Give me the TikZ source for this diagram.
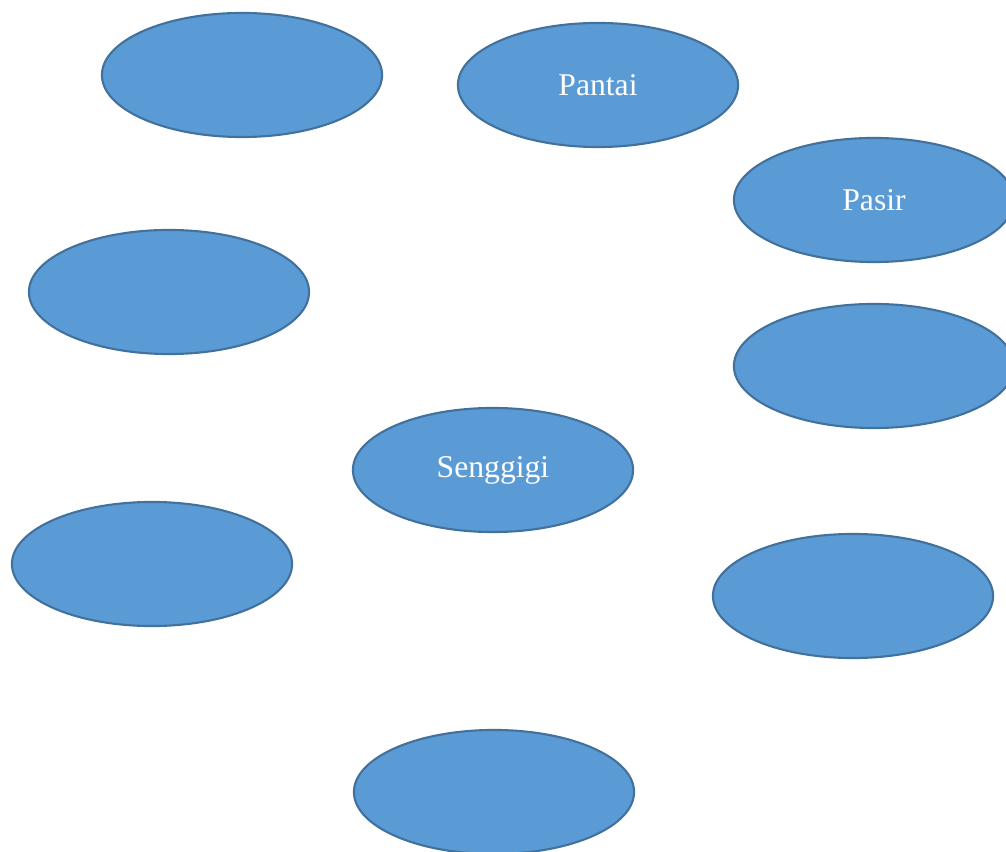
\documentclass[tikz,border=0pt]{standalone}
\usepackage{fontspec}
\setmainfont{Liberation Serif}
\usepackage{xcolor}
\usepackage{tikz}
\usetikzlibrary{shapes.geometric}
\definecolor{bubblefill}{HTML}{5B9BD5}
\definecolor{bubbleline}{HTML}{41719C}

\begin{document}
\begin{tikzpicture}[x=0.01cm, y=-0.01cm, bubble/.style={ellipse, draw=bubbleline, fill=bubblefill, line width=0.6pt, minimum width=2.8cm, minimum height=1.24cm, inner sep=0pt, text=white, font=\fontsize{9}{11}\selectfont}]
	\useasboundingbox (0,0) rectangle (1006,852);
	% top row
	\node[bubble] (topleft) at (242,75) {};
	\node[bubble] (pantai) at (598,85) {Pantai};
	\node[bubble] (pasir) at (874,200) {Pasir};
	% middle
	\node[bubble] (midleft) at (169,292) {};
	\node[bubble] (midright) at (874,366) {};
	\node[bubble] (senggigi) at (493,470) {Senggigi};
	% bottom
	\node[bubble] (lowleft) at (152,564) {};
	\node[bubble] (lowright) at (853,596) {};
	\node[bubble] (bottom) at (494,792) {};
\end{tikzpicture}
\end{document}
